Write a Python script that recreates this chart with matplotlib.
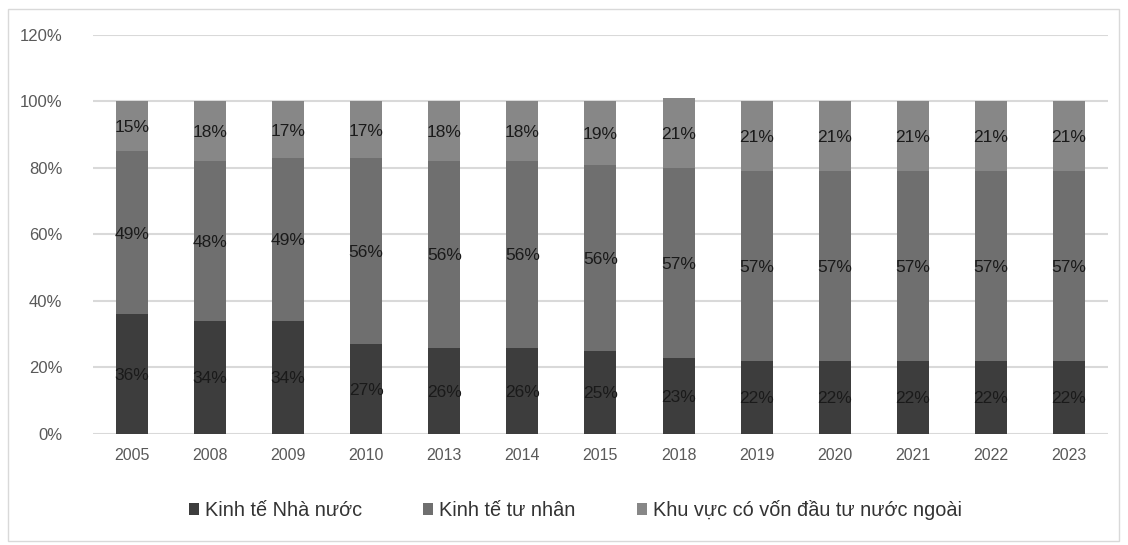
import matplotlib
matplotlib.use("Agg")
import matplotlib.pyplot as plt
from matplotlib.patches import Rectangle
import numpy as np

plt.rcParams['font.family'] = ['Liberation Sans', 'DejaVu Sans']

# tỷ trọng theo khu vực kinh tế (%)
years = ['2005', '2008', '2009', '2010', '2013', '2014', '2015', '2018',
         '2019', '2020', '2021', '2022', '2023']
nha_nuoc = [36, 34, 34, 27, 26, 26, 25, 23, 22, 22, 22, 22, 22]
tu_nhan = [49, 48, 49, 56, 56, 56, 56, 57, 57, 57, 57, 57, 57]
fdi = [15, 18, 17, 17, 18, 18, 19, 21, 21, 21, 21, 21, 21]
series_names = ['Kinh tế Nhà nước', 'Kinh tế tư nhân',
                'Khu vực có vốn đầu tư nước ngoài']
colors = ['#3d3d3d', '#6f6f6f', '#878787']

fig = plt.figure(figsize=(11.28, 5.45), dpi=100)
ax = fig.add_axes([0.0824, 0.2037, 0.8998, 0.7321])

x = np.arange(len(years))
bottom = np.zeros(len(years))
for vals, name, c in zip([nha_nuoc, tu_nhan, fdi], series_names, colors):
    vals = np.array(vals, dtype=float)
    ax.bar(x, vals, 0.41, bottom=bottom, color=c, label=name, zorder=3)
    for xi, b, v in zip(x, bottom, vals):
        ax.text(xi, b + v / 2, '%d%%' % v, ha='center', va='center_baseline',
                fontsize=12.5, color='#1a1a1a', zorder=4)
    bottom += vals

ax.set_xlim(-0.5, len(years) - 0.5)
ax.set_ylim(0, 120)
ax.set_yticks(range(0, 121, 20))
ax.set_yticklabels(['%d%%' % t for t in range(0, 121, 20)])
ax.set_xticks(x)
ax.set_xticklabels(years)
ax.yaxis.grid(True, color='#d9d9d9', linewidth=1.5, zorder=0)
ax.tick_params(length=0, labelsize=11.5, labelcolor='#595959')
ax.tick_params(axis='y', labelsize=12, pad=22)
ax.tick_params(axis='x', pad=10)
for s in ax.spines.values():
    s.set_visible(False)

leg = fig.legend(loc='center', bbox_to_anchor=(0.51, 0.064), ncol=3,
                 frameon=False, fontsize=14.3, handlelength=0.5,
                 handleheight=0.5, handletextpad=0.3, columnspacing=3.1,
                 labelcolor='#333333')

# khung viền biểu đồ
fig.add_artist(Rectangle((0.007, 0.008), 0.985, 0.975,
                         transform=fig.transFigure, fill=False,
                         edgecolor='#d9d9d9', linewidth=1))

fig.savefig('out.png', dpi=100)
